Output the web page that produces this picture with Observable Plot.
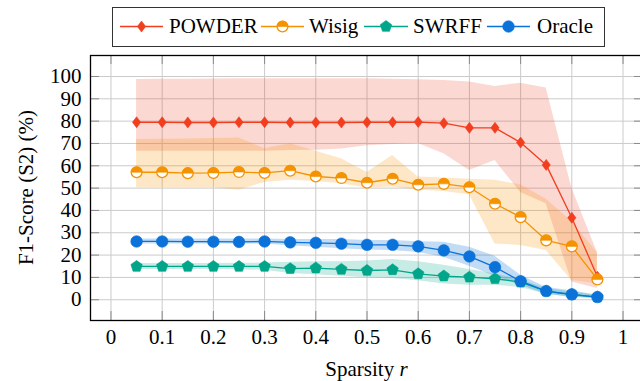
<!DOCTYPE html>
<html><head><meta charset="utf-8">
<script src="https://cdn.jsdelivr.net/npm/d3@7"></script>
<script src="https://cdn.jsdelivr.net/npm/@observablehq/plot@0.6"></script>
<style>
html,body{margin:0;padding:0;background:#fff;overflow:hidden}
#chart{width:640px;height:381px;overflow:hidden;position:relative}
#chart svg text{font-family:'Liberation Serif','Times New Roman',serif !important}
</style></head><body><div id="chart"></div>
<script>
// ---- data ----
const sparsity = [0.05,0.1,0.15,0.2,0.25,0.3,0.35,0.4,0.45,0.5,0.55,0.6,0.65,0.7,0.75,0.8,0.85,0.9,0.95];
const xTicks = [0,0.1,0.2,0.3,0.4,0.5,0.6,0.7,0.8,0.9,1];
const yTicks = [0,10,20,30,40,50,60,70,80,90,100];
const seriesNames = ["POWDER","Wisig","SWRFF","Oracle"];

const powder   = [79.5,79.5,79.4,79.4,79.5,79.5,79.4,79.4,79.4,79.5,79.5,79.6,79.1,77.0,77.0,70.4,60.4,36.7,10.3];
const powderHi = [98.7,98.8,98.8,98.9,99.0,99.0,99.0,99.0,99.0,99.0,98.8,98.5,98.2,97.5,95.5,97.0,94.8,50.0,21.0];
const powderLo = [66.5,66.5,66.5,66.5,66.5,66.5,66.8,67.0,67.5,69.0,69.5,70.0,65.4,57.9,62.4,48.0,43.0,8.0,5.0];

const wisig    = [57.1,57.1,56.7,56.8,57.2,56.8,57.8,55.2,54.5,52.4,54.2,51.5,51.9,50.4,43.0,37.0,26.6,23.9,9.1];
const wisigHi  = [71.8,71.9,72.0,72.2,72.5,67.6,69.9,66.5,63.1,57.0,64.6,55.0,54.5,54.0,53.5,51.5,45.0,35.0,21.0];
const wisigLo  = [50.2,50.2,50.2,50.2,49.0,52.5,53.5,53.0,52.0,50.0,50.5,49.0,48.5,47.0,25.0,24.3,22.0,8.6,7.2];

const swrff    = [14.9,14.9,14.9,14.9,14.9,14.9,13.9,14.2,13.6,13.1,13.4,11.6,10.6,10.1,9.4,7.9,3.8,2.3,1.2];
const swrffHi  = [16.2,16.2,16.2,16.2,16.3,16.4,16.8,17.0,17.0,17.3,18.0,17.0,15.5,13.5,11.5,9.0,5.0,3.5,2.0];
const swrffLo  = [13.5,13.5,13.5,13.5,13.4,13.2,11.8,11.2,10.5,9.8,9.5,8.5,7.0,6.5,6.5,5.5,2.5,1.2,0.5];

const oracle   = [26.1,26.1,26.0,26.0,25.9,26.1,25.7,25.5,25.1,24.6,24.6,23.9,22.1,19.4,14.6,8.3,3.9,2.4,1.2];
const oracleHi = [27.2,27.2,27.2,27.2,27.2,27.2,27.0,27.0,27.0,26.5,26.5,26.0,25.8,23.5,19.5,11.0,5.5,4.0,2.0];
const oracleLo = [25.0,25.0,25.0,25.0,25.0,25.0,24.2,23.5,22.8,22.3,22.0,21.2,19.0,15.0,10.5,6.5,2.5,1.0,0.5];

// ---- styling ----
const FONT = "'Liberation Serif','Times New Roman',serif";
const colors = {POWDER:"#f23d1f", Wisig:"#f59200", SWRFF:"#00a58a", Oracle:"#0a72d8"};
const bandOpacity = {POWDER:0.2, Wisig:0.22, SWRFF:0.22, Oracle:0.25};

const rows = (name, v, lo, hi) => sparsity.map((x,i)=>({series:name, x, y:v[i], lo:lo[i], hi:hi[i]}));
const data = {
  POWDER: rows("POWDER", powder, powderLo, powderHi),
  Wisig: rows("Wisig", wisig, wisigLo, wisigHi),
  SWRFF: rows("SWRFF", swrff, swrffLo, swrffHi),
  Oracle: rows("Oracle", oracle, oracleLo, oracleHi)
};

// custom symbols
const diamond = {draw(ctx, size){const r=Math.sqrt(size/Math.PI); const h=r, w=r*0.75;
  ctx.moveTo(0,-h); ctx.lineTo(w,0); ctx.lineTo(0,h); ctx.lineTo(-w,0); ctx.closePath();}};
const pentagon = {draw(ctx, size){const r=Math.sqrt(size/Math.PI);
  for(let k=0;k<5;k++){const a=-Math.PI/2+k*2*Math.PI/5; const px=r*Math.cos(a), py=r*Math.sin(a); if(k) ctx.lineTo(px,py); else ctx.moveTo(px,py);} ctx.closePath();}};
const topHalf = {draw(ctx, size){const r=Math.sqrt(size/Math.PI);
  ctx.moveTo(-r,0); ctx.arc(0,0,r,Math.PI,2*Math.PI); ctx.closePath();}};

const W=640, H=381, mL=90, mR=-3, mT=55, mB=61;
const pw = W-mL-mR, ph = H-mT-mB, tk = 9;

const marks = [
  Plot.gridX(xTicks, {stroke:"#cbcbcb", strokeOpacity:1, strokeWidth:1}),
  Plot.gridY(yTicks, {stroke:"#cbcbcb", strokeOpacity:1, strokeWidth:1}),
  Plot.ruleX(xTicks, {stroke:"#8a8a8a", insetBottom: ph-tk}),
  Plot.ruleX(xTicks, {stroke:"#8a8a8a", insetTop: ph-tk}),
  Plot.ruleY(yTicks, {stroke:"#8a8a8a", insetRight: pw-tk}),
  Plot.ruleY(yTicks, {stroke:"#8a8a8a", insetLeft: pw-tk})
];
for (const s of seriesNames) {
  marks.push(Plot.areaY(data[s], {x:"x", y1:"lo", y2:"hi", fill:colors[s], fillOpacity:bandOpacity[s], curve:"linear"}));
}
for (const s of seriesNames) {
  marks.push(Plot.line(data[s], {x:"x", y:"y", stroke:colors[s], strokeWidth:1.3}));
  if (s === "POWDER") marks.push(Plot.dot(data[s], {x:"x", y:"y", symbol:diamond, r:5.5, fill:colors[s], stroke:colors[s], strokeWidth:0.6}));
  if (s === "Wisig") {
    marks.push(Plot.dot(data[s], {x:"x", y:"y", symbol:"circle", r:5.4, fill:"white", stroke:colors[s], strokeWidth:1.3}));
    marks.push(Plot.dot(data[s], {x:"x", y:"y", symbol:topHalf, r:5.4, fill:colors[s], stroke:colors[s], strokeWidth:0.6}));
  }
  if (s === "SWRFF") marks.push(Plot.dot(data[s], {x:"x", y:"y", symbol:pentagon, r:6, fill:colors[s], stroke:colors[s], strokeWidth:0.6}));
  if (s === "Oracle") marks.push(Plot.dot(data[s], {x:"x", y:"y", symbol:"circle", r:5.8, fill:colors[s], stroke:colors[s], strokeWidth:0.6}));
}
marks.push(
  Plot.axisX(xTicks, {tickSize:0, tickPadding:9, label:null, tickFormat:d=>String(d), fontSize:21, fontFamily:FONT, fontVariant:"normal", fill:"black"}),
  Plot.axisY(yTicks, {tickSize:0, tickPadding:9, label:null, tickFormat:d=>String(d), fontSize:21, fontFamily:FONT, fontVariant:"normal", fill:"black"}),
  Plot.frame({stroke:"black", strokeWidth:1.3})
);

const chart = Plot.plot({
  width:W, height:H, marginLeft:mL, marginRight:mR, marginTop:mT, marginBottom:mB,
  style:{fontFamily:FONT, fontSize:"21px", color:"black", background:"white", overflow:"hidden"},
  x:{domain:[-0.04,1.04]},
  y:{domain:[-9.3,109.4]},
  marks
});
document.getElementById("chart").appendChild(chart);

// ---- axis labels ----
const svg = d3.select(chart);
const xl = svg.append("text").attr("x", (mL + W - mR)/2).attr("y", 376)
  .attr("text-anchor","middle").style("font-family",FONT).style("font-size","21px").attr("fill","black");
xl.append("tspan").text("Sparsity ");
xl.append("tspan").style("font-style","italic").text("r");
svg.append("text").attr("transform",`translate(33,${mT+ph/2}) rotate(-90)`)
  .attr("text-anchor","middle").style("font-family",FONT).style("font-size","21px").attr("fill","black")
  .text("F1-Score (S2) (%)");

// ---- legend ----
const lg = svg.append("g");
lg.append("rect").attr("x",112.5).attr("y",7.5).attr("width",492).attr("height",39)
  .attr("fill","white").attr("stroke","#333").attr("stroke-width",1);
const entries = [
  {name:"POWDER", x1:120, x2:163, tx:169},
  {name:"Wisig", x1:261, x2:304, tx:309},
  {name:"SWRFF", x1:364, x2:408, tx:413},
  {name:"Oracle", x1:487, x2:530, tx:537}
];
const ly = 26.5;
for (const e of entries) {
  const c = colors[e.name], cx = (e.x1+e.x2)/2;
  lg.append("line").attr("x1",e.x1).attr("x2",e.x2).attr("y1",ly).attr("y2",ly).attr("stroke",c).attr("stroke-width",1.3);
  const g = lg.append("g").attr("transform",`translate(${cx},${ly})`);
  if (e.name==="POWDER") g.append("path").attr("d", d3.symbol(diamond, Math.PI*5.5*5.5)()).attr("fill",c).attr("stroke",c).attr("stroke-width",0.6);
  if (e.name==="Wisig") {
    g.append("path").attr("d", d3.symbol(d3.symbolCircle, Math.PI*5.4*5.4)()).attr("fill","white").attr("stroke",c).attr("stroke-width",1.3);
    g.append("path").attr("d", d3.symbol(topHalf, Math.PI*5.4*5.4)()).attr("fill",c).attr("stroke",c).attr("stroke-width",0.6);
  }
  if (e.name==="SWRFF") g.append("path").attr("d", d3.symbol(pentagon, Math.PI*36)()).attr("fill",c).attr("stroke",c).attr("stroke-width",0.6);
  if (e.name==="Oracle") g.append("path").attr("d", d3.symbol(d3.symbolCircle, Math.PI*5.8*5.8)()).attr("fill",c).attr("stroke",c).attr("stroke-width",0.6);
  lg.append("text").attr("x",e.tx).attr("y",33).attr("text-anchor","start")
    .style("font-family",FONT).style("font-size","21px").attr("fill","black").text(e.name);
}
</script></body></html>
